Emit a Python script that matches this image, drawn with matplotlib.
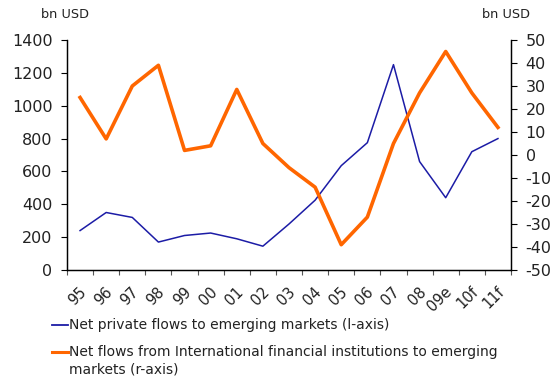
import matplotlib.pyplot as plt
import matplotlib.transforms as mtransforms
from matplotlib.lines import Line2D
import numpy as np

# Chart data
years = ["95", "96", "97", "98", "99", "00", "01", "02", "03", "04",
         "05", "06", "07", "08", "09e", "10f", "11f"]
private_flows = [240, 350, 320, 170, 210, 225, 190, 145, 280, 425,
                 635, 775, 1250, 660, 440, 720, 800]
ifi_flows = [25, 7, 30, 39, 2, 4, 28.5, 5, -5.5, -14,
             -39, -27, 5, 27, 45, 27, 12]

label_private = "Net private flows to emerging markets (l-axis)"
label_ifi = "Net flows from International financial institutions to emerging\nmarkets (r-axis)"

BLUE = "#1c1ca6"
ORANGE = "#ff6600"
TEXT = "#222222"

plt.rcParams["font.family"] = ["DejaVu Sans"]
plt.rcParams["axes.unicode_minus"] = False

W, H = 555, 386
fig = plt.figure(figsize=(W / 100, H / 100), dpi=100)
ax = fig.add_axes([67 / W, 116 / H, 444 / W, 230 / H])
ax2 = ax.twinx()

x = np.arange(len(years))
ax.plot(x, private_flows, color=BLUE, linewidth=1.1)
ax2.plot(x, ifi_flows, color=ORANGE, linewidth=2.6)

ax.set_xlim(-0.5, len(years) - 0.5)
ax.set_ylim(0, 1400)
ax.set_yticks(range(0, 1401, 200))
ax2.set_ylim(-50, 50)
ax2.set_yticks(range(-50, 51, 10))

# category ticks sit between the labels
ax.set_xticks(np.arange(-0.5, len(years)))
ax.set_xticklabels([])
ax.set_xticks(x, minor=True)
ax.set_xticklabels(years, minor=True, rotation=45, ha="right", va="center",
                   rotation_mode="anchor", fontsize=10.5, color=TEXT)
ax.tick_params(axis="x", which="minor", length=0, pad=14)
ax.tick_params(axis="x", which="major", length=3.8, width=0.8, color="#555555")
shift = mtransforms.ScaledTranslation(4 / 100, 0, fig.dpi_scale_trans)
for lbl in ax.get_xticklabels(minor=True):
    lbl.set_transform(lbl.get_transform() + shift)

ax.tick_params(axis="y", length=4, width=0.8, labelsize=11.5, labelcolor=TEXT, pad=6.5)
ax2.tick_params(axis="y", length=4, width=0.8, labelsize=11.5, labelcolor=TEXT, pad=6.5)

for a in (ax, ax2):
    a.spines["top"].set_visible(False)
    for s in ("left", "right", "bottom"):
        a.spines[s].set_linewidth(0.9)

fig.text(41 / W, 1 - 15 / H, "bn USD", fontsize=9.3, color=TEXT, va="center")
fig.text(482 / W, 1 - 15 / H, "bn USD", fontsize=9.3, color=TEXT, va="center")

# legend below the plot, handle level with the first text row
fig.add_artist(Line2D([52 / W, 68 / W], [1 - 325 / H] * 2, color=BLUE, linewidth=1.3))
fig.text(69 / W, 1 - 325 / H, label_private, fontsize=10, color=TEXT, va="center")
fig.add_artist(Line2D([52 / W, 68 / W], [1 - 352 / H] * 2, color=ORANGE, linewidth=2.2))
fig.text(69 / W, 1 - 345 / H, label_ifi, fontsize=10, color=TEXT, va="top",
         linespacing=1.3)

fig.savefig("out.png", dpi=100)
